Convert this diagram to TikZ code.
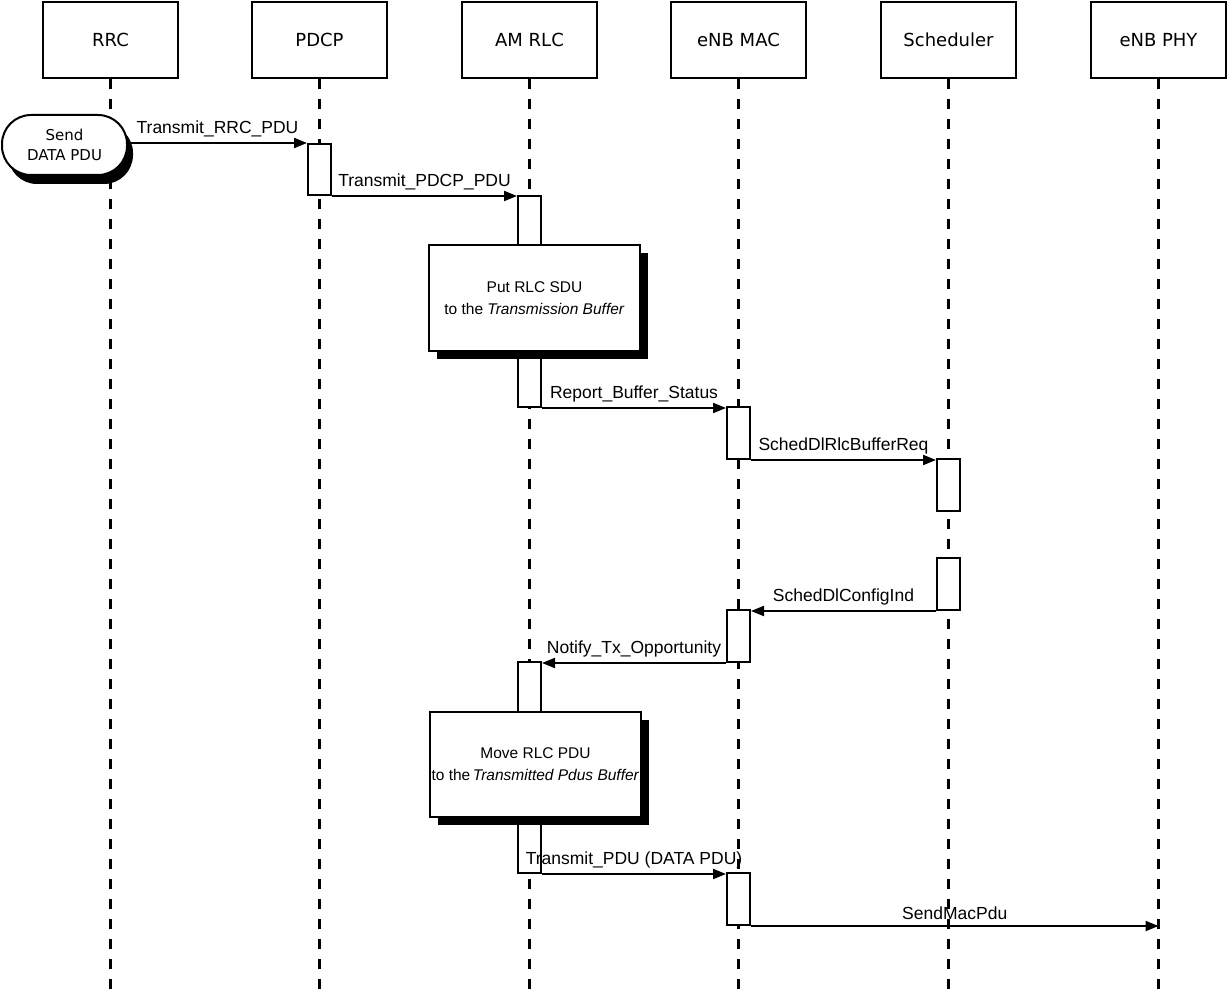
\documentclass[tikz,border=0pt]{standalone}
\usepackage{fontspec}
\setmainfont{Liberation Sans}
\newfontfamily\dejavu{DejaVu Sans}
\usetikzlibrary{shapes,arrows.meta,positioning,shadows}

\begin{document}
\begin{tikzpicture}[x=1pt, y=-1pt,
    head/.style={draw, line width=2pt, minimum width=135pt, minimum height=76pt, font=\dejavu\fontsize{18}{20}\selectfont},
    life/.style={line width=3pt, dash pattern=on 10pt off 10pt},
    bar/.style={draw, line width=2pt, fill=white, minimum width=23pt, inner sep=0pt},
    msg/.style={line width=2pt, -{Triangle[length=13pt,width=10pt]}},
    lbl/.style={font=\fontsize{17.5}{20}\selectfont, inner sep=5pt},
    action/.style={draw, line width=2pt, fill=white, minimum width=211pt, minimum height=106pt, inner xsep=2pt, align=center, font=\fontsize{15.5}{22}\selectfont, drop shadow={shadow xshift=8pt, shadow yshift=-8pt, fill=black, opacity=1}}]
    \useasboundingbox (0,0) rectangle (1227,992);

    \node[head] (rrc) at (110.5,40) {RRC};
    \node[head] (pdcp) at (319.5,40) {PDCP};
    \node[head] (rlc) at (529.5,40) {AM RLC};
    \node[head] (mac) at (738.5,40) {eNB MAC};
    \node[head] (sched) at (948.5,40) {Scheduler};
    \node[head] (phy) at (1158.5,40) {eNB PHY};

    \foreach \n in {rrc,pdcp,rlc,mac,sched,phy}
        \draw[life] (\n.south) -- (\n.south |- 0,992);

    \node[bar, minimum height=51pt] (p1) at (pdcp |- 0,169.5) {};
    \node[bar, minimum height=211pt] (r1) at (rlc |- 0,301.5) {};
    \node[bar, minimum height=52pt] (m1) at (mac |- 0,433) {};
    \node[bar, minimum height=52pt] (s1) at (sched |- 0,485) {};
    \node[bar, minimum height=52pt] (s2) at (sched |- 0,584) {};
    \node[bar, minimum height=52pt] (m2) at (mac |- 0,636) {};
    \node[bar, minimum height=211pt] (r2) at (rlc |- 0,767.5) {};
    \node[bar, minimum height=52pt] (m3) at (mac |- 0,899) {};

    \node[action] (put) at (534.5,298) {Put RLC SDU\\to the \textit{Transmission Buffer}};
    \node[action, minimum height=105pt] (move) at (535.5,764.5) {Move RLC PDU\\to the\,\textit{Transmitted Pdus Buffer}};

    \node[draw, line width=2pt, fill=white, rounded corners=29pt, minimum width=125pt, minimum height=60pt, align=center, font=\dejavu\fontsize{15}{20}\selectfont, drop shadow={shadow xshift=6pt, shadow yshift=-9pt, fill=black, opacity=1}] (send) at (64.5,145) {Send\\DATA PDU};

    \draw[msg] (send.east |- p1.north west) -- node[lbl, above] {Transmit\_RRC\_PDU} (p1.north west);
    \draw[msg] (p1.south east) -- node[lbl, above] {Transmit\_PDCP\_PDU} (r1.west |- p1.south east);
    \draw[msg] (r1.south east) -- node[lbl, above] {Report\_Buffer\_Status} (m1.west |- r1.south east);
    \draw[msg] (m1.south east) -- node[lbl, above] {SchedDlRlcBufferReq} (s1.west |- m1.south east);
    \draw[msg] (s2.south west) -- node[lbl, above] {SchedDlConfigInd} (m2.east |- s2.south west);
    \draw[msg] (m2.south west) -- node[lbl, above] {Notify\_Tx\_Opportunity} (r2.east |- m2.south west);
    \draw[msg] (r2.south east) -- node[lbl, above] {Transmit\_PDU (DATA PDU)} (m3.west |- r2.south east);
    \draw[msg] (m3.south east) -- node[lbl, above] {SendMacPdu} (m3.south east -| phy);
\end{tikzpicture}
\end{document}
